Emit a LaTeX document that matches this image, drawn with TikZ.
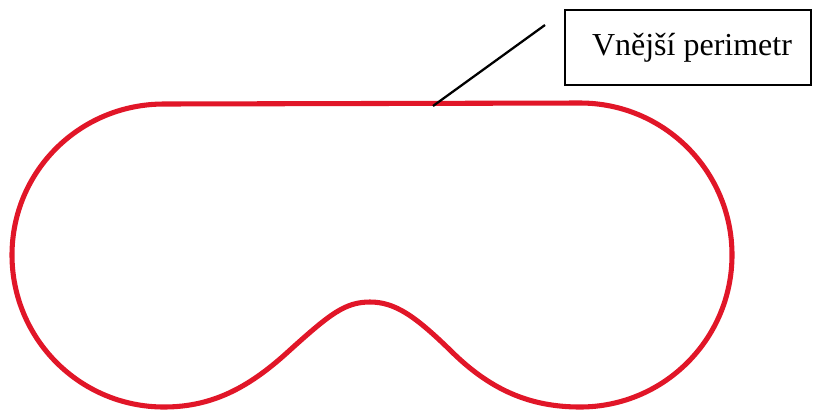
\documentclass[tikz,border=0pt]{standalone}
\usepackage{fontspec}
\setmainfont{Liberation Serif}
\definecolor{outline}{RGB}{225,22,40}
\begin{document}
\begin{tikzpicture}[x=0.75pt,y=-0.75pt,
  perimeter/.style={draw=outline,line width=3.8pt,line join=round},
  labelbox/.style={draw=black,line width=1.6pt,minimum width=184.5pt,minimum height=56pt,inner sep=0pt,
    font=\fontsize{24}{29}\selectfont},
  leader/.style={draw=black,line width=1.7pt}]
\useasboundingbox (0,0) rectangle (813,412);
% closed outline: two round lobes joined by a straight top and a bump underneath
\path[perimeter] (164,104)
  .. controls (80,104) and (12,171) .. (12,255)
  .. controls (12,339) and (80,407) .. (164,407)
  .. controls (215,407) and (252,385) .. (290,350)
  .. controls (330,314) and (345,302) .. (370,302)
  .. controls (395,302) and (415,316) .. (450,350)
  .. controls (490,390) and (530,407) .. (580,407)
  .. controls (664,407) and (732,339) .. (732,255)
  .. controls (732,171) and (664,103) .. (580,103)
  -- cycle;
\coordinate (onedge) at (433,106);
\coordinate (tail) at (545,25);
\node[labelbox] (lbl) at (688,47.5) {\hspace*{6pt}Vnější perimetr};
\path[leader] (onedge) -- (tail);
\end{tikzpicture}
\end{document}
